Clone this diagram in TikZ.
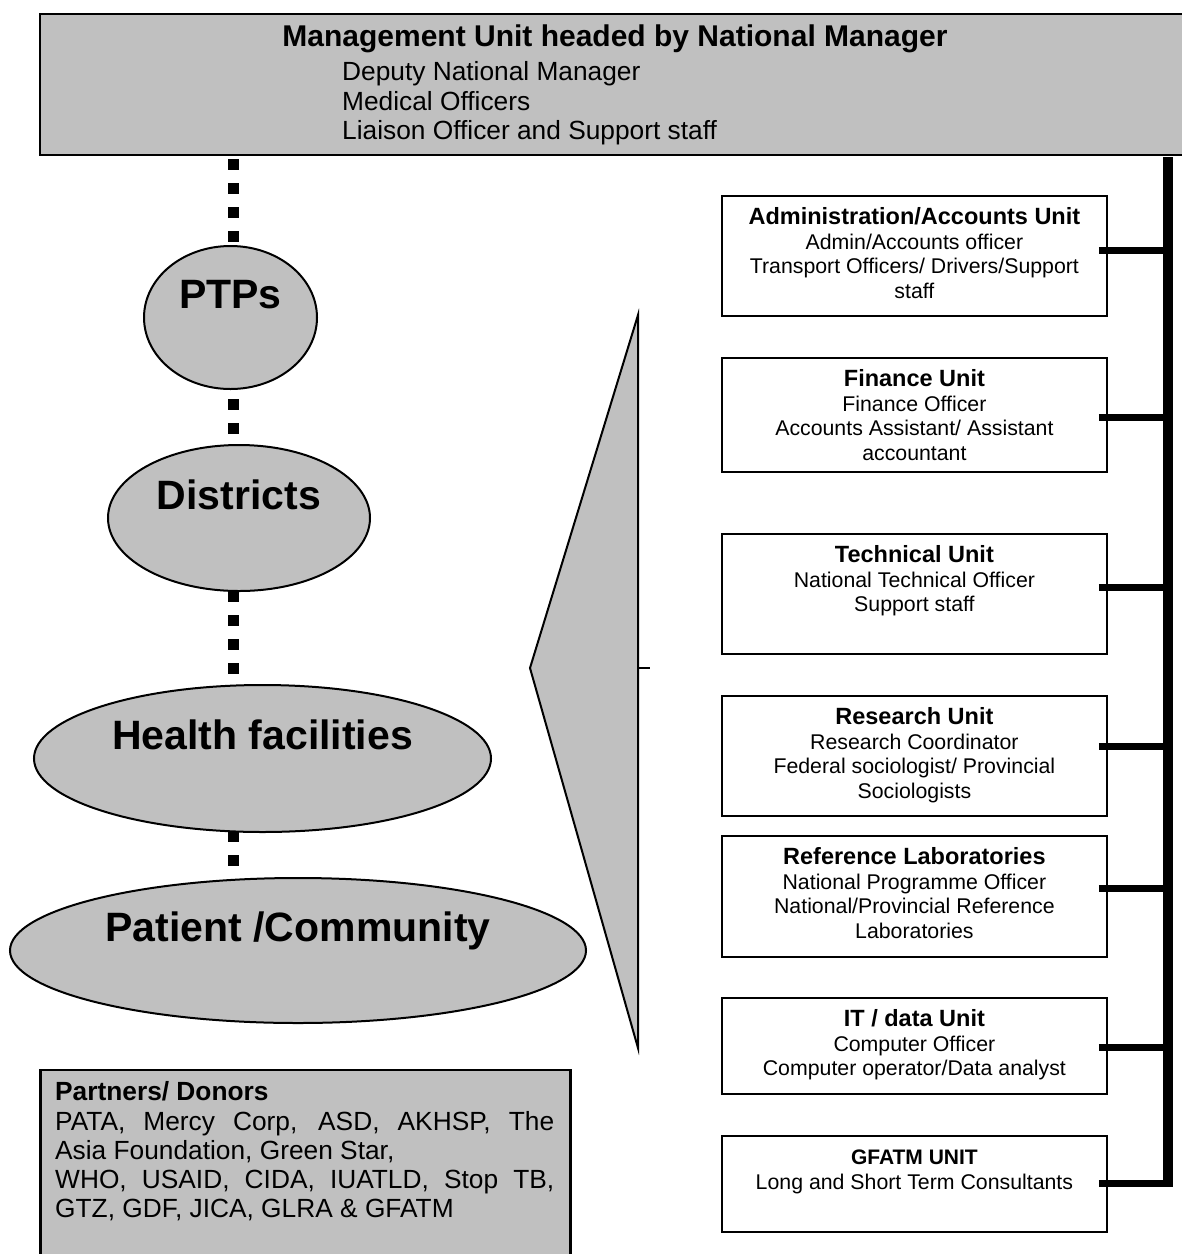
\documentclass[tikz,border=0pt]{standalone}
\usepackage{fontspec}
\setmainfont{Liberation Sans}
\usetikzlibrary{shapes.geometric,backgrounds}
\definecolor{panelgray}{RGB}{192,192,192}

% unit box body: height, title size, title, staff lines
\newcommand{\unitcontent}[4]{%
  \parbox[t][#1][t]{385pt}{\centering\fontsize{21.3}{24.5}\selectfont
    \rule{0pt}{29pt}{\bfseries\fontsize{#2}{24.5}\selectfont #3}\\#4}}

\begin{document}
\begin{tikzpicture}[x=1pt,y=-1pt,
  panel/.style={draw=black, line width=2.2pt, fill=panelgray, inner sep=0pt, anchor=north west},
  level/.style={ellipse, draw=black, line width=2pt, fill=panelgray, inner sep=0pt},
  leveltext/.style={anchor=base, inner sep=0pt, font=\bfseries\fontsize{41}{41}\selectfont},
  unitbox/.style={draw=black, line width=1.8pt, fill=white, inner sep=0pt, anchor=north west},
  stub/.style={line width=7pt},
  bus/.style={line width=10pt},
  dotlink/.style={line width=11pt, dash pattern=on 11pt off 13pt, dash phase=21pt}
]
\useasboundingbox (0,0) rectangle (1182,1254);

% management unit
\node[panel, minimum width=1152pt, minimum height=141pt] (mgmt) at (39,13) {};
\node[anchor=base, inner sep=0pt, font=\bfseries\fontsize{30}{30}\selectfont] (mgmt-title)
  at (615,46.7) {Management Unit headed by National Manager};
\node[anchor=north west, inner sep=0pt, align=left, font=\fontsize{26.3}{29.5}\selectfont] (mgmt-staff)
  at (342,60.7) {\rule{0pt}{20pt}Deputy National Manager\\Medical Officers\\Liaison Officer and Support staff};

% levels of the programme
\node[level, minimum width=173pt, minimum height=143pt] (ptps) at (230.5,317.5) {};
\node[leveltext] (ptps-text) at ([yshift=9pt]ptps.center) {PTPs};
\node[level, minimum width=262pt, minimum height=146pt] (districts) at (239,518) {};
\node[leveltext] (districts-text) at ([yshift=9pt]districts.center) {Districts};
\node[level, minimum width=457pt, minimum height=147pt] (health) at (262.5,758.5) {};
\node[leveltext] (health-text) at ([yshift=9pt]health.center) {Health facilities};
\node[level, minimum width=576pt, minimum height=145pt] (patient) at (298,950.5) {};
\node[leveltext] (patient-text) at ([yshift=9pt]patient.center) {Patient /Community};

% dotted chain behind the levels
\coordinate (dotcol) at (233,0);
\begin{scope}[on background layer]
  \draw[dotlink] (mgmt.south -| dotcol) -- (patient.north -| dotcol);
\end{scope}

% wedge
\coordinate (wedge-top) at (638,315);
\coordinate (wedge-tip) at (530,668);
\coordinate (wedge-bot) at (638,1048);
\draw[line width=2pt, fill=panelgray, line join=miter] (wedge-top) -- (wedge-tip) -- (wedge-bot) -- cycle;
\draw[line width=2pt] (wedge-tip -| wedge-top) -- ++(12,0);

% units
\node[unitbox] (admin) at (721,195) {\unitcontent{120pt}{23.5}{Administration/Accounts Unit}
  {Admin/Accounts officer\\Transport Officers/ Drivers/Support\\staff}};
\node[unitbox] (finance) at (721,357) {\unitcontent{114pt}{23.5}{Finance Unit}
  {Finance Officer\\Accounts Assistant/ Assistant\\accountant}};
\node[unitbox] (technical) at (721,533) {\unitcontent{120pt}{23.5}{Technical Unit}
  {National Technical Officer\\Support staff}};
\node[unitbox] (research) at (721,695) {\unitcontent{120pt}{23.5}{Research Unit}
  {Research Coordinator\\Federal sociologist/ Provincial\\Sociologists}};
\node[unitbox] (reflab) at (721,835) {\unitcontent{121pt}{23.5}{Reference Laboratories}
  {National Programme Officer\\National/Provincial Reference\\Laboratories}};
\node[unitbox] (itdata) at (721,997) {\unitcontent{96pt}{23.5}{IT / data Unit}
  {Computer Officer\\Computer operator/Data analyst}};
\node[unitbox] (gfatm) at (721,1135) {\unitcontent{96pt}{21}{GFATM UNIT}
  {Long and Short Term Consultants}};

% bus bar and stubs
\coordinate (bus-top) at (1168,157);
\coordinate (bus-bot) at (1168,1186.5);
\draw[bus] (bus-top) -- (bus-bot);
\draw[stub] ([xshift=-9pt,yshift=5pt]admin.east) coordinate (s1) -- (s1 -| bus-top);
\draw[stub] ([xshift=-9pt,yshift=-3pt]finance.east) coordinate (s2) -- (s2 -| bus-top);
\draw[stub] ([xshift=-9pt,yshift=6pt]technical.east) coordinate (s3) -- (s3 -| bus-top);
\draw[stub] ([xshift=-9pt,yshift=9pt]research.east) coordinate (s4) -- (s4 -| bus-top);
\draw[stub] ([xshift=-9pt,yshift=7.5pt]reflab.east) coordinate (s5) -- (s5 -| bus-top);
\draw[stub] ([xshift=-9pt,yshift=-2pt]itdata.east) coordinate (s6) -- (s6 -| bus-top);
\draw[stub] ([xshift=-9pt]gfatm.east) coordinate (s7) -- (s7 -| bus-top);

% partners and donors
\node[panel, minimum width=530pt, minimum height=220pt] (partners) at (39.3,1069) {};
\node[anchor=north west, inner sep=0pt, align=left, font=\fontsize{26.3}{29.1}\selectfont] (partners-text)
  at (55,1080.7) {\rule{0pt}{20pt}\textbf{Partners/ Donors}\\
  \makebox[499pt][s]{PATA, Mercy Corp, ASD, AKHSP, The}\\
  Asia Foundation, Green Star,\\
  \makebox[499pt][s]{WHO, USAID, CIDA, IUATLD, Stop TB,}\\
  GTZ, GDF, JICA, GLRA \& GFATM};
\end{tikzpicture}
\end{document}
